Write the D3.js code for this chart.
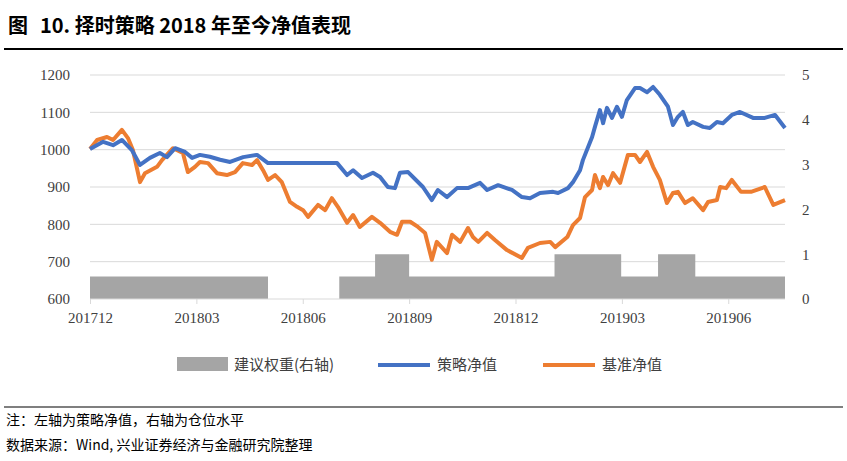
<!DOCTYPE html><html><head><meta charset="utf-8">
<script src="https://cdn.jsdelivr.net/npm/d3@7"></script>
<style>body{margin:0;background:#fff}</style></head><body><svg id="c" width="847" height="461"></svg>
<script>
const tickLabels=["201712","201803","201806","201809","201812","201903","201906"];
const tickMonths=[0,3,6,9,12,15,18];
const blueM=[0,.37,.65,.90,1.18,1.41,1.69,1.97,2.17,2.40,2.68,2.88,3.10,3.38,3.67,3.95,4.32,4.71,5.02,6.97,7.25,7.42,7.67,7.98,8.18,8.40,8.60,8.74,8.97,9.39,9.64,9.81,10.07,10.35,10.66,11.00,11.20,11.51,11.90,12.18,12.41,12.69,13.06,13.20,13.48,13.62,13.82,13.90,14.16,14.24,14.38,14.47,14.58,14.72,14.86,15.00,15.14,15.37,15.51,15.71,15.88,16.07,16.30,16.44,16.58,16.72,16.86,17.00,17.29,17.48,17.68,17.85,18.10,18.33,18.70,19.03,19.32,19.6];
const blueV=[1002,1021,1012,1026,999,959,978,991,980,1004,994,978,986,981,973,967,980,986,964,964,932,945,924,938,927,900,897,938,940,900,865,892,873,897,897,911,892,905,892,873,870,884,887,884,897,913,945,972,1034,1061,1106,1071,1112,1085,1115,1088,1133,1165,1165,1154,1168,1147,1115,1066,1088,1101,1066,1074,1061,1058,1074,1071,1093,1101,1085,1085,1093,1058,1071];
const orangeM=[0,.20,.48,.65,.90,1.07,1.21,1.41,1.55,1.89,2.03,2.34,2.62,2.76,2.96,3.10,3.33,3.58,3.86,4.09,4.31,4.57,4.71,4.88,5.02,5.22,5.41,5.64,5.84,6.01,6.15,6.43,6.63,6.82,6.99,7.25,7.42,7.61,7.95,8.18,8.46,8.66,8.80,9.03,9.25,9.45,9.64,9.78,10.07,10.21,10.44,10.66,10.80,10.95,11.20,11.42,11.76,12.18,12.35,12.69,12.98,13.12,13.46,13.62,13.82,13.96,14.16,14.24,14.38,14.47,14.61,14.75,14.95,15.17,15.37,15.51,15.71,15.88,16.07,16.27,16.44,16.58,16.78,17.00,17.29,17.43,17.68,17.77,17.94,18.10,18.36,18.64,19.03,19.27,19.6];
const orangeV=[1002,1026,1034,1026,1053,1031,999,913,937,954,972,1004,991,940,954,967,964,937,932,940,964,959,972,945,919,932,913,860,847,838,820,852,838,870,847,804,825,793,820,804,780,772,807,807,793,777,705,753,723,772,753,790,766,753,777,758,731,710,737,750,753,739,766,798,817,873,892,932,897,927,905,937,911,986,986,967,994,954,919,857,884,887,857,870,838,860,865,900,897,919,887,887,900,852,865];
const weightM=[0,5.02,7.03,8.04,9.0,13.1,14.98,16.02,17.07,19.6];
const weightV=[0.5,0,0.5,1,0.5,1,0.5,1,0.5,0.5];
const leftTicks=[600,700,800,900,1000,1100,1200];
const rightTicks=[0,1,2,3,4,5];

const svg=d3.select("#c");
const x=d3.scaleLinear().domain([0,19.6]).range([90,785]);
const yL=d3.scaleLinear().domain([600,1200]).range([299,75]);
const yR=d3.scaleLinear().domain([0,5]).range([299,75]);
const serif="'Liberation Serif','DejaVu Serif',serif";
const cjk="'Noto Sans CJK SC',sans-serif";

const t=svg.append("text").attr("x",8).attr("y",33).attr("font-family",cjk).attr("font-weight","bold").attr("font-size",20);
t.append("tspan").text("图");
t.append("tspan").attr("dx",12).text("10. 择时策略 2018 年至今净值表现");
svg.append("line").attr("x1",4).attr("x2",843).attr("y1",49).attr("y2",49).attr("stroke","#000").attr("stroke-width",2);

svg.append("g").selectAll("line").data(leftTicks.slice(1)).join("line")
 .attr("x1",90).attr("x2",785).attr("y1",d=>yL(d)).attr("y2",d=>yL(d)).attr("stroke","#d9d9d9").attr("stroke-width",1);

const wdata=weightM.map((m,i)=>({m,v:weightV[i]}));
svg.append("path").datum(wdata).attr("fill","#a5a5a5")
 .attr("d",d3.area().curve(d3.curveStepAfter).x(d=>x(d.m)).y0(yR(0)).y1(d=>yR(d.v)));

svg.append("line").attr("x1",90).attr("x2",785).attr("y1",299).attr("y2",299).attr("stroke","#d9d9d9");
const xa=svg.append("g").attr("transform","translate(0,299)")
 .call(d3.axisBottom(x).tickValues(tickMonths).tickFormat((d,i)=>tickLabels[i]).tickSize(5).tickPadding(8));
xa.select(".domain").remove();
xa.selectAll("line").attr("stroke","#d9d9d9");
xa.attr("font-family",serif).attr("font-size",15);
xa.selectAll("text").style("font-family",serif).attr("fill","#404040");

const ya=svg.append("g").attr("transform","translate(70,0)").call(d3.axisLeft(yL).tickValues(leftTicks).tickFormat(d3.format("d")).tickSize(0).tickPadding(0));
ya.select(".domain").remove();
ya.attr("font-family",serif).attr("font-size",15);
ya.selectAll("text").style("font-family",serif).attr("fill","#404040");
const yra=svg.append("g").attr("transform","translate(802,0)").call(d3.axisRight(yR).tickValues(rightTicks).tickFormat(d3.format("d")).tickSize(0).tickPadding(0));
yra.select(".domain").remove();
yra.attr("font-family",serif).attr("font-size",15);
yra.selectAll("text").style("font-family",serif).attr("fill","#404040");

const line=d3.line().x(d=>x(d[0])).y(d=>yL(d[1]));
svg.append("path").datum(orangeM.map((m,i)=>[m,orangeV[i]])).attr("fill","none").attr("stroke","#ed7d31").attr("stroke-width",4).attr("stroke-linejoin","round").attr("d",line);
svg.append("path").datum(blueM.map((m,i)=>[m,blueV[i]])).attr("fill","none").attr("stroke","#4472c4").attr("stroke-width",4).attr("stroke-linejoin","round").attr("d",line);

const lg=svg.append("g").attr("font-family",cjk).attr("font-size",15).attr("fill","#404040");
lg.append("rect").attr("x",177).attr("y",357).attr("width",51).attr("height",14).attr("fill","#a5a5a5");
lg.append("text").attr("x",234).attr("y",370).text("建议权重(右轴)");
lg.append("line").attr("x1",378).attr("x2",430).attr("y1",365).attr("y2",365).attr("stroke","#4472c4").attr("stroke-width",4);
lg.append("text").attr("x",437).attr("y",370).text("策略净值");
lg.append("line").attr("x1",543).attr("x2",595).attr("y1",365).attr("y2",365).attr("stroke","#ed7d31").attr("stroke-width",4);
lg.append("text").attr("x",602).attr("y",370).text("基准净值");

svg.append("line").attr("x1",4).attr("x2",843).attr("y1",407).attr("y2",407).attr("stroke","#000").attr("stroke-width",1.2);
svg.append("text").attr("x",6).attr("y",425).attr("font-family",cjk).attr("font-size",14).text("注：左轴为策略净值，右轴为仓位水平");
svg.append("text").attr("x",6).attr("y",450).attr("font-family",cjk).attr("font-size",14).text("数据来源：Wind, 兴业证券经济与金融研究院整理");
</script></body></html>
